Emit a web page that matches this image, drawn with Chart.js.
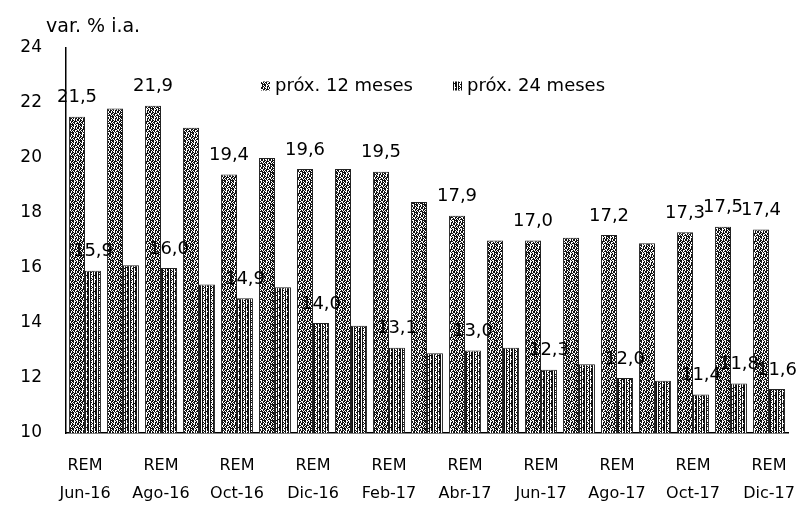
<!DOCTYPE html>
<html>
<head>
<meta charset="utf-8">
<script src="https://cdn.jsdelivr.net/npm/chart.js@4.4.0/dist/chart.umd.min.js"></script>
<style>
  html, body { margin: 0; padding: 0; background: #fff; }
  #wrap { position: relative; width: 800px; height: 509px; }
</style>
</head>
<body>
<div id="wrap"><canvas id="rem-chart" width="800" height="509"></canvas></div>
<script>
// meses de la encuesta REM (mensual, se rotula uno de cada dos)
const months = ['Jun-16', 'Jul-16', 'Ago-16', 'Sep-16', 'Oct-16', 'Nov-16', 'Dic-16', 'Ene-17', 'Feb-17',
    'Mar-17', 'Abr-17', 'May-17', 'Jun-17', 'Jul-17', 'Ago-17', 'Sep-17', 'Oct-17', 'Nov-17', 'Dic-17'];

const prox12 = [21.5, 21.8, 21.9, 21.1, 19.4, 20.0, 19.6, 19.6, 19.5, 18.4, 17.9, 17.0, 17.0, 17.1, 17.2, 16.9, 17.3, 17.5, 17.4];
const prox24 = [15.9, 16.1, 16.0, 15.4, 14.9, 15.3, 14.0, 13.9, 13.1, 12.9, 13.0, 13.1, 12.3, 12.5, 12.0, 11.9, 11.4, 11.8, 11.6];

// indices que llevan rotulo de valor
const labeledIdx = [0, 2, 4, 6, 8, 10, 12, 14, 16, 17, 18];

const yTicks = [10, 12, 14, 16, 18, 20, 22, 24];

const FONT = "'DejaVu Sans', sans-serif";

// tramas tipo "escaneo" para las barras
function makePattern(rows) {
    const c = document.createElement('canvas');
    c.width = rows[0].length;
    c.height = rows.length;
    const g = c.getContext('2d');
    g.fillStyle = '#fff';
    g.fillRect(0, 0, c.width, c.height);
    g.fillStyle = '#111';
    rows.forEach((row, y) => {
        for (let x = 0; x < row.length; x++) {
            if (row[x] === '#') g.fillRect(x, y, 1, 1);
        }
    });
    return g.createPattern(c, 'repeat');
}

const ctx = document.getElementById('rem-chart').getContext('2d');

const pattern12 = makePattern([
    '##.#.##.',
    '#.###..#',
    '.##..#.#',
    '#.#.###.',
    '##.#..##',
    '##..#.#.',
    '.#.##.##',
    '#..#.##.'
]);
const pattern24 = makePattern([
    '#.##.#.#',
    '#.#..#.#',
    '#.##.#.#',
    '#.#..###',
    '#.#.##.#',
    '#.#..#.#',
    '#.##.#.#',
    '#.#.##..'
]);

function fmt(v) {
    return v.toFixed(1).replace('.', ',');
}

const valueLabels = {
    id: 'valueLabels',
    afterDatasetsDraw(chart) {
        const c = chart.ctx;
        c.save();
        c.font = '18px ' + FONT;
        c.fillStyle = '#000';
        c.textAlign = 'center';
        c.textBaseline = 'bottom';
        chart.data.datasets.forEach((ds, di) => {
            const meta = chart.getDatasetMeta(di);
            labeledIdx.forEach((i) => {
                const bar = meta.data[i];
                c.fillText(fmt(ds.data[i]), bar.x, bar.y - 10);
            });
        });
        c.restore();
    }
};

// leyenda horizontal dentro del area del grafico
const innerLegend = {
    id: 'innerLegend',
    afterDraw(chart) {
        const c = chart.ctx;
        const area = chart.chartArea;
        const box = 9, gapText = 5, gapItem = 40;
        c.save();
        c.font = '18px ' + FONT;
        c.textBaseline = 'middle';
        c.textAlign = 'left';
        const items = chart.data.datasets.map((ds) => ({ text: ds.label, fill: ds.backgroundColor }));
        const widths = items.map((it) => box + gapText + c.measureText(it.text).width);
        const total = widths.reduce((a, b) => a + b, 0) + gapItem * (items.length - 1);
        let x = (area.left + area.right) / 2 + 6 - total / 2;
        const y = area.top + 38;
        items.forEach((it, k) => {
            c.fillStyle = it.fill;
            c.fillRect(x, y - box / 2, box, box);
            c.fillStyle = '#000';
            c.fillText(it.text, x + box + gapText, y);
            x += widths[k] + gapItem;
        });
        c.restore();
    }
};

const unitLabel = {
    id: 'unitLabel',
    afterDraw(chart) {
        const c = chart.ctx;
        const area = chart.chartArea;
        c.save();
        c.font = '19px ' + FONT;
        c.fillStyle = '#000';
        c.textAlign = 'left';
        c.textBaseline = 'middle';
        c.fillText('var. % i.a.', area.left - 20, area.top - 21);
        c.restore();
    }
};

new Chart(ctx, {
    type: 'bar',
    data: {
        labels: months,
        datasets: [
            {
                label: 'próx. 12 meses',
                data: prox12,
                backgroundColor: pattern12,
                borderColor: '#222',
                borderWidth: 1,
            },
            {
                label: 'próx. 24 meses',
                data: prox24,
                backgroundColor: pattern24,
                borderColor: '#222',
                borderWidth: 1,
            }
        ],
    },
    options: {
        responsive: false,
        animation: false,
        layout: {
            padding: { top: 48, right: 12, bottom: 0, left: 0 }
        },
        plugins: {
            legend: { display: false },
            tooltip: { enabled: false },
        },
        datasets: {
            bar: {
                categoryPercentage: 0.84,
                barPercentage: 1.0,
            }
        },
        scales: {
            x: {
                afterFit: (scale) => {
                    scale.height = 76;
                    // el ultimo rotulo puede quedar cortado, como en el original
                    scale.paddingRight = 0;
                },
                grid: { display: false, drawTicks: false },
                border: { display: true, color: '#000', width: 1.5 },
                ticks: {
                    autoSkip: false,
                    maxRotation: 0,
                    padding: 19,
                    color: '#000',
                    font: { family: FONT, size: 16, lineHeight: 1.75 },
                    callback: (value, index) => (index % 2 === 0 ? ['REM', months[index]] : ''),
                },
            },
            y: {
                min: 10,
                max: 24,
                afterBuildTicks: (scale) => {
                    scale.ticks = yTicks.map((v) => ({ value: v }));
                },
                afterFit: (scale) => {
                    scale.width = 66;
                },
                grid: { display: false, drawTicks: false },
                border: { display: true, color: '#000', width: 1.5 },
                ticks: {
                    padding: 24,
                    color: '#000',
                    font: { family: FONT, size: 17 },
                },
            },
        },
    },
    plugins: [valueLabels, innerLegend, unitLabel],
});
</script>
</body>
</html>
